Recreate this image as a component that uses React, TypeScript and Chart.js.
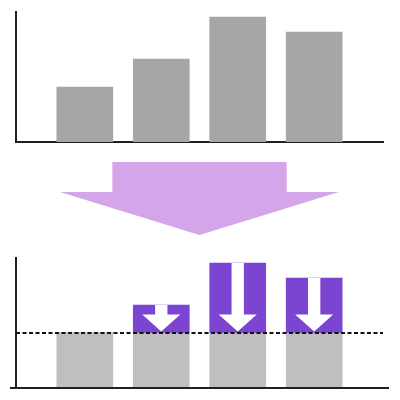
import { useEffect, useRef } from "react"
import { Chart, registerables } from "chart.js"

Chart.register(...registerables)

// bar slots (linear x so the gaps at both ends can be matched)
const positions = [1, 2, 3, 4]
const values = [55, 83, 125, 110]
const threshold = 55
const yMax = 130

const cappedValues = values.map((v) => Math.min(v, threshold))
const excessValues = values.map((v) => Math.max(v - threshold, 0))

const axisColor = "#231f20"
const topBarColor = "#a6a6a6"
const baseBarColor = "#bfbfbf"
const excessColor = "#7b45d1"
const bigArrowColor = "#d4a5e9"
const barWidth = 56

const hiddenAxis = (extra: any) => ({
  ticks: { display: false },
  grid: { display: false, drawTicks: false },
  ...extra,
})

const xScale = (borderShown: boolean) =>
  hiddenAxis({
    type: "linear",
    min: 0.1,
    max: 4.9,
    offset: false,
    stacked: true,
    border: { display: borderShown, color: axisColor, width: 2 },
  })

const yScale = () =>
  hiddenAxis({
    min: 0,
    max: yMax,
    stacked: true,
    border: { color: axisColor, width: 2 },
  })

const bottomDecor = {
  id: "bottomDecor",
  afterDatasetsDraw(chart: any) {
    const { ctx, chartArea, scales } = chart
    const x = scales.x
    const y = scales.y

    // white down arrows inside the purple parts
    const meta = chart.getDatasetMeta(1)
    meta.data.forEach((bar: any, i: number) => {
      if (excessValues[i] <= 0) return
      const { x: cx, y: top, base, width } = bar.getProps(["x", "y", "base", "width"], true)
      const shaftHalf = width * 0.11
      const headHalf = width * 0.34
      const tip = base - 1.5
      const headTop = tip - 17
      ctx.save()
      ctx.fillStyle = "#ffffff"
      ctx.beginPath()
      ctx.moveTo(cx - shaftHalf, top)
      ctx.lineTo(cx + shaftHalf, top)
      ctx.lineTo(cx + shaftHalf, headTop)
      ctx.lineTo(cx + headHalf, headTop)
      ctx.lineTo(cx, tip)
      ctx.lineTo(cx - headHalf, headTop)
      ctx.lineTo(cx - shaftHalf, headTop)
      ctx.closePath()
      ctx.fill()
      ctx.restore()
    })

    // dashed threshold line
    const ty = y.getPixelForValue(threshold)
    ctx.save()
    ctx.strokeStyle = "#111111"
    ctx.lineWidth = 2
    ctx.setLineDash([4, 2.5])
    ctx.beginPath()
    ctx.moveTo(chartArea.left, ty)
    ctx.lineTo(chartArea.right, ty)
    ctx.stroke()
    ctx.restore()

    // baseline, a little wider than the plot
    ctx.save()
    ctx.strokeStyle = axisColor
    ctx.lineWidth = 2
    ctx.beginPath()
    ctx.moveTo(chartArea.left - 6, chartArea.bottom)
    ctx.lineTo(chartArea.right + 6, chartArea.bottom)
    ctx.stroke()
    ctx.restore()

    // big arrow between the two panels
    const p1 = x.getPixelForValue(positions[0])
    const p4 = x.getPixelForValue(positions[positions.length - 1])
    const c = (p1 + p4) / 2
    const span = p4 - p1
    const shaftHalf = span * 0.38
    const headHalf = span * 0.608
    ctx.save()
    ctx.fillStyle = bigArrowColor
    ctx.beginPath()
    ctx.moveTo(c - shaftHalf, 12)
    ctx.lineTo(c + shaftHalf, 12)
    ctx.lineTo(c + shaftHalf, 42)
    ctx.lineTo(c + headHalf, 42)
    ctx.lineTo(c, 85)
    ctx.lineTo(c - headHalf, 42)
    ctx.lineTo(c - shaftHalf, 42)
    ctx.closePath()
    ctx.fill()
    ctx.restore()
  },
}

export default function App() {
  const topRef = useRef<HTMLCanvasElement>(null)
  const bottomRef = useRef<HTMLCanvasElement>(null)

  useEffect(() => {
    if (!topRef.current || !bottomRef.current) return

    const common = {
      animation: false as const,
      responsive: true,
      maintainAspectRatio: false,
      plugins: { legend: { display: false }, tooltip: { enabled: false } },
    }

    const topChart = new Chart(topRef.current, {
      type: "bar",
      data: {
        datasets: [
          {
            data: positions.map((p, i) => ({ x: p, y: values[i] })),
            backgroundColor: topBarColor,
            barThickness: barWidth,
          },
        ],
      },
      options: {
        ...common,
        layout: { padding: { left: 16, right: 17, top: 12, bottom: 8 } },
        scales: { x: xScale(true), y: yScale() },
      } as any,
    })

    const bottomChart = new Chart(bottomRef.current, {
      type: "bar",
      data: {
        datasets: [
          {
            data: positions.map((p, i) => ({ x: p, y: cappedValues[i] })),
            backgroundColor: baseBarColor,
            barThickness: barWidth,
          },
          {
            data: positions.map((p, i) => ({ x: p, y: excessValues[i] })),
            backgroundColor: excessColor,
            barThickness: barWidth,
          },
        ],
      },
      options: {
        ...common,
        layout: { padding: { left: 16, right: 17, top: 108, bottom: 12 } },
        scales: { x: xScale(false), y: yScale() },
      } as any,
      plugins: [bottomDecor],
    })

    return () => {
      topChart.destroy()
      bottomChart.destroy()
    }
  }, [])

  return (
    <div style={{ position: "absolute", left: 0, top: 0, width: 400, height: 400, background: "#fff" }}>
      <div style={{ position: "absolute", left: 0, top: 0, width: 400, height: 150 }}>
        <canvas ref={topRef}></canvas>
      </div>
      <div style={{ position: "absolute", left: 0, top: 150, width: 400, height: 250 }}>
        <canvas ref={bottomRef}></canvas>
      </div>
    </div>
  )
}
